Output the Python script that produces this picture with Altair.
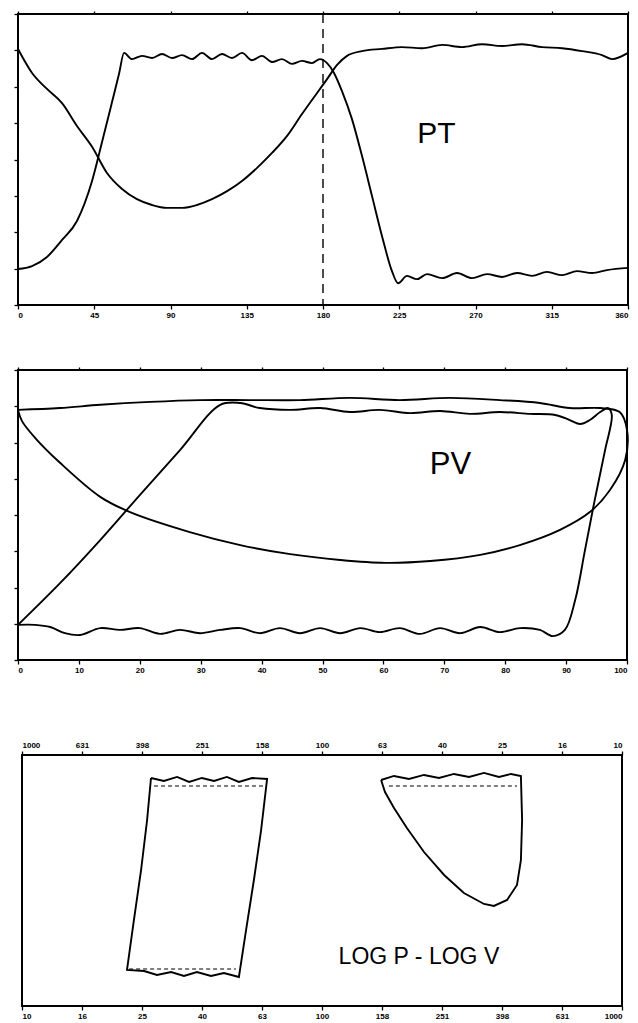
import altair as alt
import pandas as pd

# ---------------- PT panel (crank angle in degrees) ----------------
pt_ticks = [0, 45, 90, 135, 180, 225, 270, 315, 360]
pt_marker_angle = 180

pt_angle_p = [0, 8.3, 17.1, 26.0, 34.8, 43.7, 49.6, 55.5, 59.6, 62.6,
              67.3, 73.2, 79.1, 85.0, 90.9, 96.8, 102.7, 108.6, 114.5, 120.4,
              126.3, 132.2, 138.1, 144.0, 149.9, 155.8, 161.7, 167.6, 173.5, 178.2,
              182.4, 186.5, 191.2, 197.1, 203.0, 208.9, 214.8, 220.7, 224.3, 229.6,
              235.5, 241.4, 250.3, 259.1, 268.0, 276.8, 285.7, 294.5, 303.4, 312.2,
              321.1, 329.9, 338.8, 347.6, 360]
pt_value_p = [0.99, 1.07, 1.32, 1.79, 2.31, 3.41, 4.48, 5.58, 6.35, 6.93,
              6.76, 6.85, 6.79, 6.90, 6.79, 6.87, 6.76, 6.93, 6.76, 6.90,
              6.79, 6.93, 6.73, 6.85, 6.68, 6.76, 6.63, 6.71, 6.65, 6.76,
              6.65, 6.38, 5.88, 5.11, 4.10, 3.00, 1.90, 0.93, 0.60, 0.80,
              0.71, 0.85, 0.74, 0.88, 0.74, 0.85, 0.77, 0.88, 0.80, 0.91,
              0.82, 0.93, 0.88, 0.96, 1.02]

pt_angle_t = [0, 8.3, 17.1, 26.0, 34.8, 43.7, 52.5, 61.4, 70.2, 79.1,
              87.9, 96.8, 105.6, 114.5, 123.4, 132.2, 141.1, 149.9, 158.8, 167.6,
              176.5, 182.4, 188.3, 194.2, 203.0, 214.8, 226.6, 238.4, 250.3, 262.0,
              273.9, 285.7, 297.5, 309.3, 321.1, 332.9, 344.7, 350.6, 360]
pt_value_t = [7.04, 6.38, 5.94, 5.55, 4.92, 4.35, 3.63, 3.19, 2.91, 2.75,
              2.67, 2.67, 2.75, 2.91, 3.13, 3.41, 3.77, 4.18, 4.65, 5.25,
              5.83, 6.21, 6.60, 6.85, 6.98, 7.04, 7.09, 7.06, 7.15, 7.09,
              7.17, 7.12, 7.17, 7.09, 7.06, 6.98, 6.87, 6.76, 6.93]

# ---------------- PV panel (volume in %) ----------------
pv_ticks = [0, 10, 20, 30, 40, 50, 60, 70, 80, 90, 100]

pv_vol_p = [0, 6.9, 13.5, 20.0, 26.6, 33.2, 36.5, 39.7, 44.7, 49.6,
            54.5, 59.4, 64.4, 69.3, 74.2, 79.1, 84.1, 88.2, 90.6, 92.3,
            93.9, 95.6, 96.9, 97.5, 96.4, 94.7, 93.1, 91.5, 89.8, 87.8,
            85.7, 82.4, 79.1, 75.9, 72.6, 69.3, 66.0, 62.7, 59.4, 56.2,
            52.9, 49.6, 46.3, 43.0, 39.7, 36.5, 33.2, 29.9, 26.6, 23.3,
            20.0, 16.7, 13.5, 10.2, 7.7, 5.3, 2.8, 0]
pv_val_p = [0.97, 2.12, 3.31, 4.55, 5.79, 7.04, 7.09, 6.95, 6.90, 6.95,
            6.84, 6.90, 6.81, 6.87, 6.79, 6.84, 6.79, 6.76, 6.62, 6.51,
            6.62, 6.84, 6.95, 6.76, 5.79, 4.41, 3.03, 1.66, 0.83, 0.66,
            0.83, 0.88, 0.77, 0.91, 0.74, 0.88, 0.72, 0.88, 0.77, 0.88,
            0.74, 0.88, 0.74, 0.88, 0.74, 0.88, 0.83, 0.74, 0.83, 0.72,
            0.88, 0.83, 0.88, 0.69, 0.74, 0.91, 0.97, 0.97]

pv_vol_t = [0, 6.9, 13.5, 21.7, 29.9, 38.1, 46.3, 54.5, 62.7, 70.9,
            79.1, 85.7, 90.6, 95.6, 98.8, 100, 99.7, 97.2, 93.9, 89.0,
            82.4, 75.9, 67.7, 60.3, 52.9, 44.7, 36.5, 28.2, 18.4, 13.5,
            6.9, 2.8, 0.66, 0]
pv_val_t = [6.90, 6.95, 7.04, 7.12, 7.17, 7.17, 7.17, 7.23, 7.17, 7.23,
            7.17, 7.09, 6.95, 6.95, 6.84, 6.35, 5.52, 4.69, 4.08, 3.59,
            3.17, 2.90, 2.73, 2.68, 2.76, 2.92, 3.17, 3.53, 4.08, 4.50,
            5.44, 6.13, 6.59, 6.90]

# ---------------- LOG P - LOG V panel (log10 units) ----------------
lg_ticks = [1.0, 1.2, 1.4, 1.6, 1.8, 2.0, 2.2, 2.4, 2.6, 2.8, 3.0]

lg_v_a = [1.430, 1.473, 1.517, 1.557, 1.600, 1.640, 1.683, 1.723, 1.767, 1.817,
          1.797, 1.773, 1.747, 1.723, 1.673, 1.630, 1.583, 1.540, 1.497, 1.450,
          1.407, 1.350, 1.373, 1.397, 1.417, 1.430]
lg_p_a = [1.817, 1.793, 1.825, 1.785, 1.817, 1.793, 1.825, 1.785, 1.817, 1.809,
          1.402, 1.004, 0.606, 0.231, 0.263, 0.239, 0.271, 0.239, 0.271, 0.247,
          0.279, 0.287, 0.685, 1.084, 1.482, 1.817]

lg_v_b = [2.197, 2.240, 2.290, 2.340, 2.390, 2.440, 2.490, 2.540, 2.590, 2.630,
          2.663, 2.667, 2.663, 2.650, 2.617, 2.573, 2.540, 2.473, 2.407, 2.340,
          2.283, 2.240, 2.210, 2.197]
lg_p_b = [1.801, 1.833, 1.809, 1.841, 1.817, 1.849, 1.825, 1.857, 1.825, 1.849,
          1.833, 1.482, 1.163, 0.964, 0.845, 0.797, 0.813, 0.900, 1.044, 1.227,
          1.418, 1.578, 1.705, 1.801]

lg_dash_v1 = [1.440, 1.357, 2.223]
lg_dash_v2 = [1.807, 1.713, 2.650]
lg_dash_p = [1.753, 0.295, 1.753]

# ---------------- build tables ----------------
def series(xs, ys, name):
    return pd.DataFrame({"x": xs, "y": ys, "series": name, "i": list(range(len(xs)))})

pt_df = pd.concat([series(pt_angle_p, pt_value_p, "P"), series(pt_angle_t, pt_value_t, "T")])
pv_df = pd.concat([series(pv_vol_p, pv_val_p, "P"), series(pv_vol_t, pv_val_t, "T")])
lg_df = pd.concat([series(lg_v_a, lg_p_a, "A"), series(lg_v_b, lg_p_b, "B")])
lg_dash_df = pd.DataFrame({"x": lg_dash_v1, "x2": lg_dash_v2, "y": lg_dash_p})

AX = dict(labelFont="Liberation Sans", labelFontSize=8, labelFontWeight="bold",
          labelColor="black", tickColor="black", tickWidth=1.3,
          domain=False, grid=False, title=None)
TXT = dict(font="Liberation Sans", color="black")

# ---------------- PT chart ----------------
pt_xs = alt.Scale(domain=[0, 360], nice=False, zero=False)
pt_ys = alt.Scale(domain=[0, 8], nice=False, zero=False)
pt_y = alt.Y("y:Q", scale=pt_ys,
             axis=alt.Axis(values=list(range(9)), labels=False, tickSize=4, **AX))

pt_lines = alt.Chart(pt_df).mark_line(color="black", strokeWidth=1.9, interpolate="monotone").encode(
    x=alt.X("x:Q", scale=pt_xs, axis=alt.Axis(values=pt_ticks, tickSize=4, labelPadding=2, **AX)),
    y=pt_y, detail="series:N", order="i:Q")
pt_rule = alt.Chart(pd.DataFrame({"x": [pt_marker_angle]})).mark_rule(
    color="black", strokeWidth=1.4, strokeDash=[9, 6]).encode(
    x=alt.X("x:Q", scale=pt_xs, axis=alt.Axis(orient="top", values=pt_ticks, labels=False, tickSize=3, **AX)))
pt_text = alt.Chart(pd.DataFrame({"x": [247], "y": [4.7], "t": ["PT"]})).mark_text(
    fontSize=30, **TXT).encode(
    x=alt.X("x:Q", scale=pt_xs, axis=None), y=pt_y, text="t:N")
top = alt.layer(pt_lines, pt_rule, pt_text).resolve_scale(x="independent").properties(width=610, height=291)

# ---------------- PV chart ----------------
pv_xs = alt.Scale(domain=[0, 100], nice=False, zero=False)
pv_ys = alt.Scale(domain=[0, 8], nice=False, zero=False)
pv_y = alt.Y("y:Q", scale=pv_ys,
             axis=alt.Axis(values=list(range(9)), labels=False, tickSize=4, **AX))
pv_lines = alt.Chart(pv_df).mark_line(color="black", strokeWidth=1.9, interpolate="catmull-rom").encode(
    x=alt.X("x:Q", scale=pv_xs, axis=alt.Axis(values=pv_ticks, tickSize=4, labelPadding=2, **AX)),
    y=pv_y, detail="series:N", order="i:Q")
pv_text = alt.Chart(pd.DataFrame({"x": [71], "y": [5.38], "t": ["PV"]})).mark_text(
    fontSize=31, **TXT).encode(
    x=alt.X("x:Q", scale=pv_xs, axis=alt.Axis(orient="top", values=pv_ticks, labels=False, tickSize=3, **AX)),
    y=pv_y, text="t:N")
mid = alt.layer(pv_lines, pv_text).resolve_scale(x="independent").properties(width=609, height=290)

# ---------------- LOG chart ----------------
lg_xs = alt.Scale(domain=[1, 3], nice=False, zero=False)
lg_ys = alt.Scale(domain=[0, 2], nice=False, zero=False)
lg_y = alt.Y("y:Q", scale=lg_ys, axis=None)
lg_lines = alt.Chart(lg_df).mark_line(color="black", strokeWidth=1.9, interpolate="linear").encode(
    x=alt.X("x:Q", scale=lg_xs, axis=alt.Axis(
        values=lg_ticks, tickSize=4, labelPadding=2,
        labelExpr="format(pow(10, datum.value), '.0f')", **AX)),
    y=lg_y, detail="series:N", order="i:Q")
lg_dash = alt.Chart(lg_dash_df).mark_rule(color="black", strokeWidth=1.2, strokeDash=[4, 3]).encode(
    x=alt.X("x:Q", scale=lg_xs, axis=alt.Axis(
        orient="top", values=lg_ticks, tickSize=4, labelPadding=2,
        labelExpr="format(pow(10, 4 - datum.value), '.0f')", **AX)),
    x2="x2:Q", y=lg_y)
lg_text = alt.Chart(pd.DataFrame({"x": [2.323], "y": [0.39], "t": ["LOG P - LOG V"]})).mark_text(
    fontSize=23, **TXT).encode(
    x=alt.X("x:Q", scale=lg_xs, axis=None), y=lg_y, text="t:N")
bot = alt.layer(lg_lines, lg_dash, lg_text).resolve_scale(x="independent").properties(width=600, height=251)

spacer = alt.Chart(pd.DataFrame({"a": [0]})).mark_rule(opacity=0).encode(
    x=alt.value(0), y=alt.value(0), y2=alt.value(1)
).properties(width=1, height=1, view=alt.ViewConfig(stroke="transparent"))
bot_row = alt.hconcat(spacer, bot, spacing=0)

chart = alt.vconcat(top, alt.vconcat(mid, bot_row, spacing=65), spacing=45).properties(
    padding={"left": 12, "top": 9, "right": 4, "bottom": 0},
    background="white",
).configure_view(stroke="black", strokeWidth=2)

chart.save("out.html", embed_options={"renderer": "svg", "actions": False})
